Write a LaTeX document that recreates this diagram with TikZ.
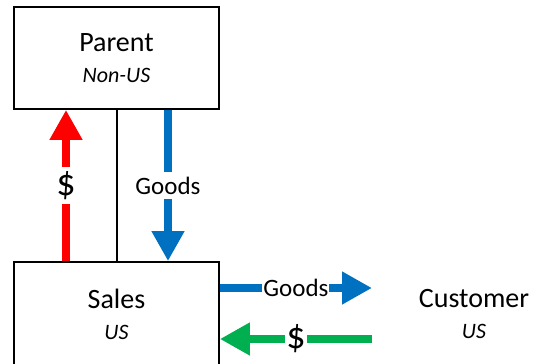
\documentclass[tikz,border=0pt]{standalone}
\usepackage{fontspec}
\setmainfont{Carlito}
\usetikzlibrary{arrows.meta}

\definecolor{moneyred}{RGB}{255,0,0}
\definecolor{goodsblue}{RGB}{0,112,192}
\definecolor{moneygreen}{RGB}{0,176,80}
\newcommand{\subtag}{\fontsize{22}{26}\selectfont\itshape}

\begin{document}
\begin{tikzpicture}[x=1pt,y=-1pt,>={Triangle[width=31pt,length=30pt]},
                    line width=2pt]
  \tikzstyle{entity}=[draw,line width=1.8pt,minimum width=205pt,
                      minimum height=102pt,align=center,
                      font=\fontsize{28}{31}\selectfont]
  \tikzstyle{flow}=[draw=#1,line width=7.5pt,->]
  \tikzstyle{tag}=[fill=white,inner xsep=1pt,inner ysep=5pt,text=black,
                   font=\fontsize{25}{28}\selectfont]
  \tikzstyle{cash}=[tag,inner xsep=1.5pt,inner ysep=4pt,
                    font=\fontsize{38}{40}\selectfont]

  \useasboundingbox (0,0) rectangle (542,364);
  \clip (0,0) rectangle (542,364);

  \node[entity]                     (parent)   at (116.5,58)  {Parent\\{\subtag Non-US}};
  \node[entity,minimum height=104pt] (sales)    at (116.5,314) {Sales\\{\subtag US}};
  \node[align=center,font=\fontsize{28}{31}\selectfont]
                                    (customer) at (474,314)   {Customer\\{\subtag US}};
  \coordinate (cust) at (372,314);

  \draw (sales.north) -- (parent.south);

  \draw[flow=moneyred] ([xshift=-50.5pt]sales.north)
        -- node[cash] {\$} ([xshift=-50.5pt]parent.south);
  \draw[flow=goodsblue] ([xshift=51.5pt]parent.south)
        -- node[tag] {Goods} ([xshift=51.5pt]sales.north);
  \draw[flow=goodsblue] ([yshift=26pt]sales.east)
        -- node[tag,inner ysep=1pt] {Goods} ([yshift=26pt]cust);
  \draw[flow=moneygreen] ([yshift=-25pt]cust)
        -- node[cash,inner ysep=1pt] {\$} ([yshift=-25pt]sales.east);

\end{tikzpicture}
\end{document}
